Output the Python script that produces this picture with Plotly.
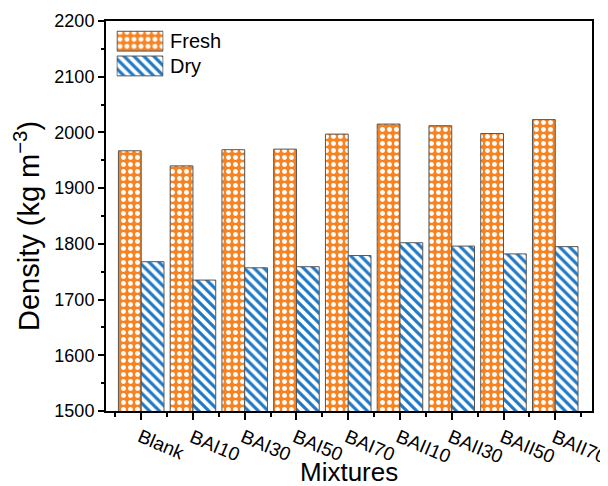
import plotly.graph_objects as go

categories = ["Blank", "BAI10", "BAI30", "BAI50", "BAI70", "BAII10", "BAII30", "BAII50", "BAII70"]
fresh = [1967, 1940, 1969, 1970, 1997, 2015, 2012, 1998, 2023]
dry = [1768, 1735, 1757, 1759, 1779, 1802, 1796, 1782, 1795]
y_ticks = [1500, 1600, 1700, 1800, 1900, 2000, 2100, 2200]
series_names = ["Fresh", "Dry"]

ORANGE = "#F7821F"
BLUE = "#1F78C4"
EDGE = "#555555"
FONT = "Liberation Sans, Arial, sans-serif"

FRESH_PAT = dict(shape=".", fgcolor="white", bgcolor=ORANGE, size=7, solidity=0.4, fillmode="replace")
DRY_PAT = dict(shape="\\", fgcolor=BLUE, bgcolor="white", size=7, solidity=0.45, fillmode="replace")

xs = list(range(len(categories)))

fig = go.Figure()
fig.add_trace(go.Bar(
    x=xs, y=fresh, name=series_names[0], showlegend=False,
    marker=dict(color=ORANGE, line=dict(color=EDGE, width=1), pattern=FRESH_PAT),
))
fig.add_trace(go.Bar(
    x=xs, y=dry, name=series_names[1], showlegend=False,
    marker=dict(color=BLUE, line=dict(color=EDGE, width=1), pattern=DRY_PAT),
))

# legend swatches drawn in a small inset subplot
for pos, pat, col in [(1, FRESH_PAT, ORANGE), (0, DRY_PAT, BLUE)]:
    fig.add_trace(go.Bar(
        x=[1], y=[pos], orientation="h", width=0.8, offset=-0.4, xaxis="x2", yaxis="y2",
        showlegend=False, hoverinfo="skip",
        marker=dict(color=col, line=dict(color=EDGE, width=1), pattern=pat),
    ))

annotations = []
for i, c in enumerate(categories):
    annotations.append(dict(
        x=i, y=0, xref="x", yref="paper", text=c, showarrow=False,
        textangle=23, xanchor="left", yanchor="top", xshift=-9, yshift=-12,
        font=dict(family=FONT, size=19, color="black"),
    ))
for name, yp in zip(series_names, [0.9487, 0.8846]):
    annotations.append(dict(
        x=0.128, y=yp, xref="paper", yref="paper", text=name, showarrow=False,
        xanchor="left", yanchor="middle", font=dict(family=FONT, size=20, color="black"),
    ))
annotations.append(dict(
    x=0.5, y=(411 - 472) / 390.0, xref="paper", yref="paper", text="Mixtures", showarrow=False,
    font=dict(family=FONT, size=26, color="black"), xanchor="center", yanchor="middle",
))
annotations.append(dict(
    x=(27 - 106) / 486.0, y=(411 - 226) / 390.0, xref="paper", yref="paper",
    text="Density (kg m<sup>\u22123</sup>)", showarrow=False,
    textangle=-90, font=dict(family=FONT, size=29, color="black"), xanchor="center", yanchor="middle",
))

# the page adds an 8px body margin; margins compensate so the plot lands where intended
fig.update_layout(
    width=608, height=486,
    margin=dict(l=98, r=24, t=13, b=83),
    paper_bgcolor="white", plot_bgcolor="white",
    barmode="group", bargap=0.12, bargroupgap=0,
    font=dict(family=FONT, size=18, color="black"),
    showlegend=False,
    annotations=annotations,
    xaxis2=dict(domain=[0.0216, 0.1183], range=[-0.01, 1.01], anchor="y2",
                visible=False, fixedrange=True),
    yaxis2=dict(domain=[0.853, 0.980], range=[-0.5, 1.5], anchor="x2",
                visible=False, fixedrange=True),
    xaxis=dict(
        range=[-0.68, 8.71], tickvals=xs, ticktext=["" for _ in xs], automargin=False,
        ticks="outside", ticklen=7, tickwidth=1.5, tickcolor="black",
        minor=dict(tickvals=[i - 0.5 for i in xs] + [len(xs) - 0.5], ticks="outside",
                   ticklen=4, tickwidth=1.5, tickcolor="black"),
        showline=True, linecolor="black", linewidth=2, mirror=True,
        showgrid=False, zeroline=False,
    ),
    yaxis=dict(
        range=[1500, 2200], tickvals=y_ticks, automargin=False,
        ticks="outside", ticklen=6, tickwidth=1.5, tickcolor="black",
        minor=dict(dtick=50, tick0=1500, ticks="outside", ticklen=3.5, tickwidth=1.5, tickcolor="black"),
        showline=True, linecolor="black", linewidth=2, mirror=True,
        showgrid=False, zeroline=False,
        tickfont=dict(family=FONT, size=18),
    ),
)

fig.write_html("out.html")
